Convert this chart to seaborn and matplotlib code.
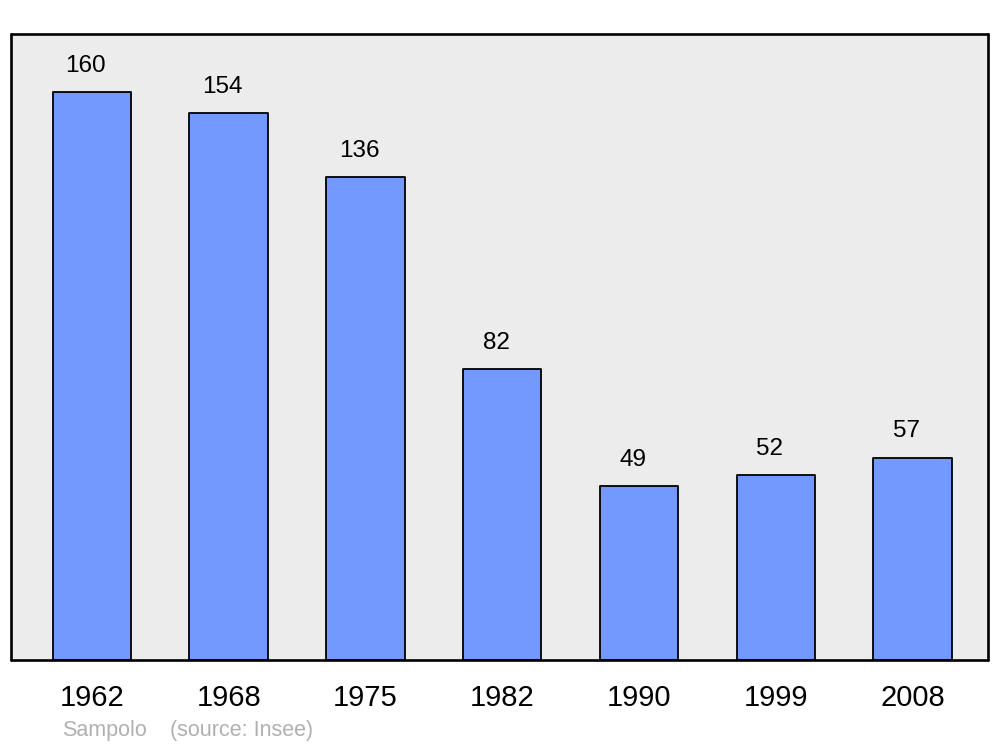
import matplotlib
matplotlib.use("Agg")
import matplotlib.pyplot as plt
import seaborn as sns
import pandas as pd

# données
annees = ["1962", "1968", "1975", "1982", "1990", "1999", "2008"]
population = [160, 154, 136, 82, 49, 52, 57]

df = pd.DataFrame({"annee": annees, "pop": population})

sns.set_style("white")
plt.rcParams["font.family"] = ["Liberation Sans", "DejaVu Sans"]
plt.rcParams["text.color"] = "black"
plt.rcParams["xtick.color"] = "black"

fig = plt.figure(figsize=(10, 7.47), dpi=100)
ax = fig.add_axes([0.011, 0.1165, 0.977, 0.838])
ax.set_facecolor("#ececec")

sns.barplot(data=df, x="annee", y="pop", color="#7399ff", saturation=1,
            width=0.574, edgecolor="black", linewidth=1.3, ax=ax)
for p in ax.patches:
    p.set_joinstyle("round")

# étiquettes de valeur, légèrement à gauche du centre comme l'original
for i, v in enumerate(population):
    ax.annotate(str(v), (i, v), xytext=(-4.5, 11), textcoords="offset points",
                ha="center", va="bottom", fontsize=17.5, color="black")

ax.set_xlim(-0.592, 6.552)
ax.set_ylim(0, 176.3)
ax.set_yticks([])
ax.set_xlabel("")
ax.set_ylabel("")
ax.tick_params(axis="x", length=0, pad=17, labelsize=21, labelcolor="black")
for lab in ax.get_xticklabels():
    lab.set_x(lab.get_position()[0])

for s in ax.spines.values():
    s.set_visible(True)
    s.set_color("black")
    s.set_linewidth(1.9)
    s.set_joinstyle("round")
    s.set_capstyle("round")

fig.text(0.062, 0.0215, "Sampolo", color="#b0b0b0", fontsize=15.5, va="center")
fig.text(0.170, 0.0215, "(source: Insee)", color="#b0b0b0", fontsize=15.5, va="center")

fig.savefig("out.png", dpi=100)
